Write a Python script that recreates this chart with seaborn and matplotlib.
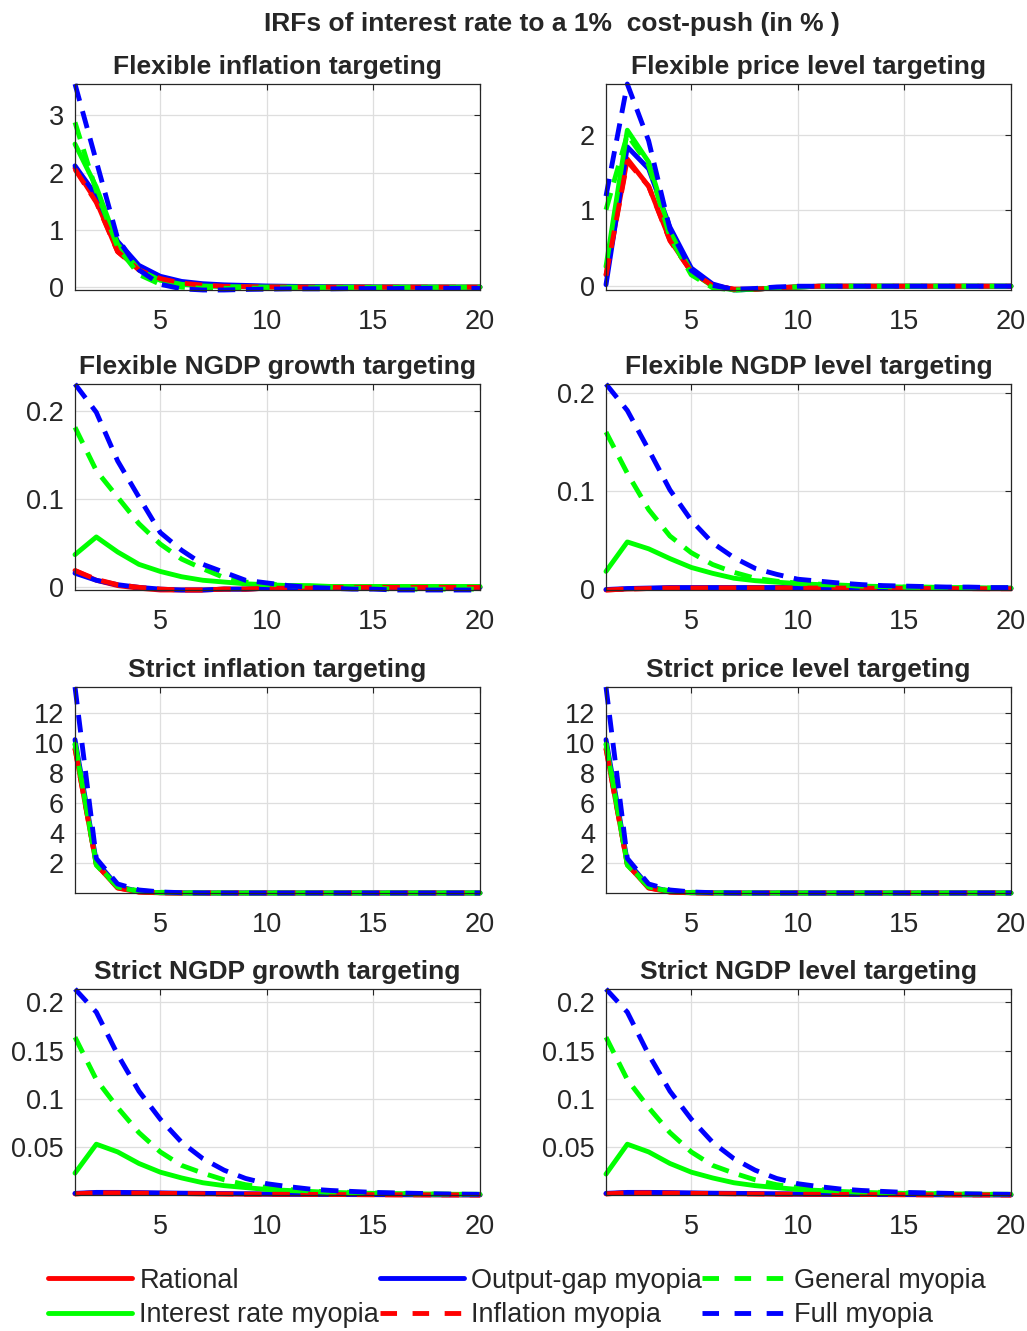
import matplotlib
matplotlib.use("Agg")
import matplotlib.pyplot as plt
from matplotlib.lines import Line2D
from matplotlib.ticker import FormatStrFormatter
import seaborn as sns

# горизонт импульсных откликов
horizon = list(range(1, 21))

# --- Flexible inflation targeting
fit_rational = [2.08, 1.50, 0.62, 0.32, 0.16, 0.08, 0.04, 0.02, 0.01, 0.005, 0.003, 0.002, 0.001, 0.001, 0.0, 0.0, 0.0, 0.0, 0.0, 0.0]
fit_outgap = [2.12, 1.60, 0.80, 0.38, 0.19, 0.10, 0.06, 0.04, 0.03, 0.02, 0.015, 0.01, 0.008, 0.006, 0.004, 0.003, 0.002, 0.002, 0.001, 0.001]
fit_intrate = [2.50, 1.75, 0.75, 0.30, 0.12, 0.05, 0.02, 0.01, 0.005, 0.002, 0.001, 0.0, 0.0, 0.0, 0.0, 0.0, 0.0, 0.0, 0.0, 0.0]
fit_inflation = [2.06, 1.48, 0.62, 0.30, 0.15, 0.07, 0.035, 0.015, 0.008, 0.004, 0.002, 0.001, 0.0, 0.0, 0.0, 0.0, 0.0, 0.0, 0.0, 0.0]
fit_general = [2.88, 1.68, 0.70, 0.22, 0.05, 0.0, -0.02, -0.02, -0.02, -0.015, -0.01, -0.01, -0.008, -0.006, -0.005, -0.004, -0.003, -0.002, -0.002, -0.001]
fit_full = [3.55, 2.20, 0.85, 0.30, 0.05, -0.03, -0.05, -0.05, -0.04, -0.035, -0.03, -0.03, -0.03, -0.025, -0.025, -0.025, -0.02, -0.02, -0.02, -0.02]

# --- Flexible price level targeting
fplt_rational = [0.15, 1.68, 1.32, 0.61, 0.19, 0.01, -0.04, -0.04, -0.02, -0.01, 0.0, 0.0, 0.0, 0.0, 0.0, 0.0, 0.0, 0.0, 0.0, 0.0]
fplt_outgap = [0.02, 1.84, 1.55, 0.78, 0.24, 0.03, -0.05, -0.04, -0.02, -0.01, 0.0, 0.0, 0.0, 0.0, 0.0, 0.0, 0.0, 0.0, 0.0, 0.0]
fplt_intrate = [0.26, 2.06, 1.64, 0.72, 0.19, 0.0, -0.05, -0.04, -0.02, -0.01, 0.0, 0.0, 0.0, 0.0, 0.0, 0.0, 0.0, 0.0, 0.0, 0.0]
fplt_inflation = [0.14, 1.65, 1.32, 0.60, 0.19, 0.01, -0.04, -0.04, -0.02, -0.01, 0.0, 0.0, 0.0, 0.0, 0.0, 0.0, 0.0, 0.0, 0.0, 0.0]
fplt_general = [1.01, 2.00, 1.60, 0.65, 0.15, -0.02, -0.05, -0.04, -0.02, -0.01, 0.0, 0.0, 0.0, 0.0, 0.0, 0.0, 0.0, 0.0, 0.0, 0.0]
fplt_full = [1.19, 2.67, 1.92, 0.75, 0.21, 0.01, -0.04, -0.03, -0.01, 0.0, 0.0, 0.0, 0.0, 0.0, 0.0, 0.0, 0.0, 0.0, 0.0, 0.0]

# --- Flexible NGDP growth targeting
fng_rational = [0.019, 0.008, 0.002, -0.001, -0.003, -0.003, -0.003, -0.002, -0.002, -0.001, -0.001, -0.001, 0.0, 0.0, 0.0, 0.0, 0.0, 0.0, 0.0, 0.0]
fng_outgap = [0.016, 0.008, 0.003, 0.0, -0.002, -0.003, -0.003, -0.002, -0.002, -0.001, -0.001, 0.0, 0.0, 0.0, 0.0, 0.0, 0.0, 0.0, 0.0, 0.0]
fng_intrate = [0.037, 0.057, 0.040, 0.026, 0.018, 0.012, 0.008, 0.006, 0.004, 0.003, 0.002, 0.002, 0.001, 0.001, 0.001, 0.001, 0.001, 0.001, 0.001, 0.001]
fng_inflation = [0.019, 0.009, 0.003, 0.0, -0.002, -0.003, -0.003, -0.002, -0.002, -0.001, -0.001, -0.001, 0.0, 0.0, 0.0, 0.0, 0.0, 0.0, 0.0, 0.0]
fng_general = [0.181, 0.132, 0.102, 0.072, 0.049, 0.032, 0.021, 0.011, 0.006, 0.004, 0.002, 0.001, 0.0, -0.001, -0.001, -0.002, -0.002, -0.002, -0.002, -0.002]
fng_full = [0.230, 0.198, 0.143, 0.102, 0.062, 0.042, 0.026, 0.017, 0.008, 0.005, 0.002, 0.0, -0.001, -0.002, -0.002, -0.003, -0.003, -0.003, -0.003, -0.003]

# --- Flexible NGDP level targeting
fnl_rational = [-0.001, 0.0, 0.0005, 0.001, 0.001, 0.0012, 0.0012, 0.0012, 0.0012, 0.001, 0.001, 0.001, 0.0008, 0.0008, 0.0006, 0.0005, 0.0005, 0.0004, 0.0003, 0.0003]
fnl_outgap = [-0.0005, 0.0005, 0.001, 0.0015, 0.0015, 0.0015, 0.0015, 0.0015, 0.0015, 0.0014, 0.0013, 0.0012, 0.0011, 0.001, 0.001, 0.0009, 0.0008, 0.0008, 0.0007, 0.0007]
fnl_intrate = [0.018, 0.048, 0.041, 0.031, 0.022, 0.016, 0.011, 0.0085, 0.007, 0.0055, 0.0045, 0.004, 0.003, 0.0025, 0.002, 0.002, 0.0015, 0.0015, 0.001, 0.001]
fnl_inflation = [-0.001, 0.0, 0.0005, 0.001, 0.001, 0.0012, 0.0012, 0.0012, 0.0012, 0.001, 0.001, 0.001, 0.0008, 0.0008, 0.0006, 0.0005, 0.0005, 0.0004, 0.0003, 0.0003]
fnl_general = [0.160, 0.118, 0.081, 0.054, 0.037, 0.025, 0.017, 0.011, 0.008, 0.006, 0.005, 0.004, 0.003, 0.0025, 0.002, 0.0015, 0.0015, 0.001, 0.001, 0.001]
fnl_full = [0.209, 0.182, 0.142, 0.101, 0.070, 0.047, 0.032, 0.021, 0.015, 0.010, 0.008, 0.006, 0.0045, 0.0035, 0.003, 0.0025, 0.002, 0.002, 0.0015, 0.0015]

# --- Strict inflation targeting
sit_rational = [9.6, 1.9, 0.33, 0.06, 0.01, 0.0, 0.0, 0.0, 0.0, 0.0, 0.0, 0.0, 0.0, 0.0, 0.0, 0.0, 0.0, 0.0, 0.0, 0.0]
sit_outgap = [10.2, 2.1, 0.45, 0.10, 0.02, 0.005, 0.0, 0.0, 0.0, 0.0, 0.0, 0.0, 0.0, 0.0, 0.0, 0.0, 0.0, 0.0, 0.0, 0.0]
sit_intrate = [9.9, 1.95, 0.40, 0.10, 0.02, 0.0, 0.0, 0.0, 0.0, 0.0, 0.0, 0.0, 0.0, 0.0, 0.0, 0.0, 0.0, 0.0, 0.0, 0.0]
sit_inflation = [9.6, 1.9, 0.35, 0.07, 0.01, 0.0, 0.0, 0.0, 0.0, 0.0, 0.0, 0.0, 0.0, 0.0, 0.0, 0.0, 0.0, 0.0, 0.0, 0.0]
sit_general = [9.95, 1.85, 0.40, 0.15, 0.05, 0.015, 0.005, 0.0, 0.0, 0.0, 0.0, 0.0, 0.0, 0.0, 0.0, 0.0, 0.0, 0.0, 0.0, 0.0]
sit_full = [13.7, 2.3, 0.60, 0.20, 0.07, 0.02, 0.005, 0.0, 0.0, 0.0, 0.0, 0.0, 0.0, 0.0, 0.0, 0.0, 0.0, 0.0, 0.0, 0.0]

# --- Strict price level targeting
spl_rational = [9.6, 1.9, 0.33, 0.06, 0.01, 0.0, 0.0, 0.0, 0.0, 0.0, 0.0, 0.0, 0.0, 0.0, 0.0, 0.0, 0.0, 0.0, 0.0, 0.0]
spl_outgap = [10.2, 2.1, 0.45, 0.10, 0.02, 0.005, 0.0, 0.0, 0.0, 0.0, 0.0, 0.0, 0.0, 0.0, 0.0, 0.0, 0.0, 0.0, 0.0, 0.0]
spl_intrate = [9.9, 1.95, 0.40, 0.10, 0.02, 0.0, 0.0, 0.0, 0.0, 0.0, 0.0, 0.0, 0.0, 0.0, 0.0, 0.0, 0.0, 0.0, 0.0, 0.0]
spl_inflation = [9.6, 1.9, 0.35, 0.07, 0.01, 0.0, 0.0, 0.0, 0.0, 0.0, 0.0, 0.0, 0.0, 0.0, 0.0, 0.0, 0.0, 0.0, 0.0, 0.0]
spl_general = [9.95, 1.85, 0.40, 0.15, 0.05, 0.015, 0.005, 0.0, 0.0, 0.0, 0.0, 0.0, 0.0, 0.0, 0.0, 0.0, 0.0, 0.0, 0.0, 0.0]
spl_full = [13.7, 2.3, 0.60, 0.20, 0.07, 0.02, 0.005, 0.0, 0.0, 0.0, 0.0, 0.0, 0.0, 0.0, 0.0, 0.0, 0.0, 0.0, 0.0, 0.0]

# --- Strict NGDP growth targeting
sng_rational = [0.0015, 0.0025, 0.0025, 0.0022, 0.002, 0.0018, 0.0016, 0.0014, 0.0012, 0.0011, 0.001, 0.0009, 0.0008, 0.0007, 0.0006, 0.0005, 0.0005, 0.0004, 0.0004, 0.0003]
sng_outgap = [0.002, 0.003, 0.003, 0.0028, 0.0025, 0.0022, 0.002, 0.0018, 0.0016, 0.0014, 0.0012, 0.0011, 0.001, 0.0009, 0.0008, 0.0007, 0.0006, 0.0006, 0.0005, 0.0005]
sng_intrate = [0.023, 0.053, 0.045, 0.033, 0.024, 0.018, 0.013, 0.010, 0.008, 0.006, 0.005, 0.004, 0.003, 0.0025, 0.002, 0.0018, 0.0015, 0.0012, 0.001, 0.001]
sng_inflation = [0.0015, 0.0025, 0.0025, 0.0022, 0.002, 0.0018, 0.0016, 0.0014, 0.0012, 0.0011, 0.001, 0.0009, 0.0008, 0.0007, 0.0006, 0.0005, 0.0005, 0.0004, 0.0004, 0.0003]
sng_general = [0.164, 0.120, 0.091, 0.065, 0.045, 0.031, 0.023, 0.016, 0.011, 0.008, 0.006, 0.0045, 0.0035, 0.003, 0.0025, 0.002, 0.0015, 0.0012, 0.001, 0.001]
sng_full = [0.214, 0.190, 0.146, 0.108, 0.079, 0.055, 0.038, 0.026, 0.0175, 0.012, 0.009, 0.0065, 0.005, 0.004, 0.003, 0.0025, 0.002, 0.0015, 0.0012, 0.001]

# --- Strict NGDP level targeting
snl_rational = [0.0015, 0.0025, 0.0025, 0.0022, 0.002, 0.0018, 0.0016, 0.0014, 0.0012, 0.0011, 0.001, 0.0009, 0.0008, 0.0007, 0.0006, 0.0005, 0.0005, 0.0004, 0.0004, 0.0003]
snl_outgap = [0.002, 0.003, 0.003, 0.0028, 0.0025, 0.0022, 0.002, 0.0018, 0.0016, 0.0014, 0.0012, 0.0011, 0.001, 0.0009, 0.0008, 0.0007, 0.0006, 0.0006, 0.0005, 0.0005]
snl_intrate = [0.022, 0.053, 0.045, 0.033, 0.024, 0.018, 0.013, 0.010, 0.008, 0.006, 0.005, 0.004, 0.003, 0.0025, 0.002, 0.0018, 0.0015, 0.0012, 0.001, 0.001]
snl_inflation = [0.0015, 0.0025, 0.0025, 0.0022, 0.002, 0.0018, 0.0016, 0.0014, 0.0012, 0.0011, 0.001, 0.0009, 0.0008, 0.0007, 0.0006, 0.0005, 0.0005, 0.0004, 0.0004, 0.0003]
snl_general = [0.164, 0.120, 0.091, 0.065, 0.045, 0.031, 0.023, 0.016, 0.011, 0.008, 0.006, 0.0045, 0.0035, 0.003, 0.0025, 0.002, 0.0015, 0.0012, 0.001, 0.001]
snl_full = [0.214, 0.190, 0.146, 0.108, 0.079, 0.055, 0.038, 0.026, 0.0175, 0.012, 0.009, 0.0065, 0.005, 0.004, 0.003, 0.0025, 0.002, 0.0015, 0.0012, 0.001]

titles = ["Flexible inflation targeting", "Flexible price level targeting",
          "Flexible NGDP growth targeting", "Flexible NGDP level targeting",
          "Strict inflation targeting", "Strict price level targeting",
          "Strict NGDP growth targeting", "Strict NGDP level targeting"]
yticks = [[0, 1, 2, 3], [0, 1, 2], [0, 0.1, 0.2], [0, 0.1, 0.2],
          [2, 4, 6, 8, 10, 12], [2, 4, 6, 8, 10, 12],
          [0.05, 0.1, 0.15, 0.2], [0.05, 0.1, 0.15, 0.2]]
xticks = [5, 10, 15, 20]

panels = [
    [fit_rational, fit_outgap, fit_intrate, fit_inflation, fit_general, fit_full],
    [fplt_rational, fplt_outgap, fplt_intrate, fplt_inflation, fplt_general, fplt_full],
    [fng_rational, fng_outgap, fng_intrate, fng_inflation, fng_general, fng_full],
    [fnl_rational, fnl_outgap, fnl_intrate, fnl_inflation, fnl_general, fnl_full],
    [sit_rational, sit_outgap, sit_intrate, sit_inflation, sit_general, sit_full],
    [spl_rational, spl_outgap, spl_intrate, spl_inflation, spl_general, spl_full],
    [sng_rational, sng_outgap, sng_intrate, sng_inflation, sng_general, sng_full],
    [snl_rational, snl_outgap, snl_intrate, snl_inflation, snl_general, snl_full],
]

# порядок серий такой же, как в списках панелей
series_names = ["Rational", "Output-gap myopia", "Interest rate myopia",
                "Inflation myopia", "General myopia", "Full myopia"]
series_colors = ["#ff0000", "#0000ff", "#00ff00", "#ff0000", "#00ff00", "#0000ff"]
dashed = [False, False, False, True, True, True]

sns.set_theme(style="whitegrid", rc={
    "axes.edgecolor": "#262626",
    "axes.linewidth": 0.9,
    "grid.color": "#dedede",
    "grid.linewidth": 0.9,
    "xtick.color": "#262626",
    "ytick.color": "#262626",
})
plt.rcParams["font.family"] = ["Liberation Sans", "DejaVu Sans"]

W, H = 1027, 1331
fig = plt.figure(figsize=(W / 100, H / 100), dpi=100)

col_left = [75, 606]
ax_w = 405
row_bottom = [290, 590, 893, 1195]
ax_h = 206

for i in range(8):
    r, c = divmod(i, 2)
    ax = fig.add_axes([col_left[c] / W, 1 - row_bottom[r] / H, ax_w / W, ax_h / H])
    for vals, name, col, ds in zip(panels[i], series_names, series_colors, dashed):
        ls = (0, (3.6, 2.2)) if ds else "-"
        sns.lineplot(x=horizon, y=vals, color=col, linestyle=ls, linewidth=3.5,
                     ax=ax, legend=False, clip_on=False, dash_capstyle="butt",
                     solid_joinstyle="round")
    lo = min(min(v) for v in panels[i])
    hi = max(max(v) for v in panels[i])
    ax.set_xlim(1, 20)
    ax.set_ylim(lo, hi)
    ax.set_xticks(xticks)
    ax.set_yticks(yticks[i])
    ax.yaxis.set_major_formatter(FormatStrFormatter("%g"))
    ax.tick_params(direction="in", length=4, width=0.8, top=True, right=True,
                   labelsize=19.5)
    ax.tick_params(axis="x", pad=14)
    ax.tick_params(axis="y", pad=8)
    for sp in ax.spines.values():
        sp.set_visible(True)
        sp.set_color("#262626")
    ax.set_title(titles[i], fontsize=19, fontweight="bold", pad=7)

fig.text(552 / W, 1 - 24 / H, "IRFs of interest rate to a 1%  cost-push (in % )",
         ha="center", va="center", fontsize=19, fontweight="bold")

# легенда: три колонки, порядок по строкам
handles = []
for name, col, ds in zip(series_names, series_colors, dashed):
    ls = (0, (3.4, 3.2)) if ds else "-"
    handles.append(Line2D([], [], color=col, linestyle=ls, linewidth=3.5,
                          dash_capstyle="butt", label=name))
order = [0, 2, 1, 3, 4, 5]
leg = fig.legend([handles[k] for k in order], [series_names[k] for k in order],
                 ncol=3, loc="center left", bbox_to_anchor=(48 / W, 1 - 1298 / H),
                 frameon=False, fontsize=19.5, handlelength=3.1, handletextpad=0.27,
                 columnspacing=0.02, labelspacing=0.33, borderaxespad=0,
                 borderpad=0)

fig.savefig("out.png", dpi=100, facecolor="white")
